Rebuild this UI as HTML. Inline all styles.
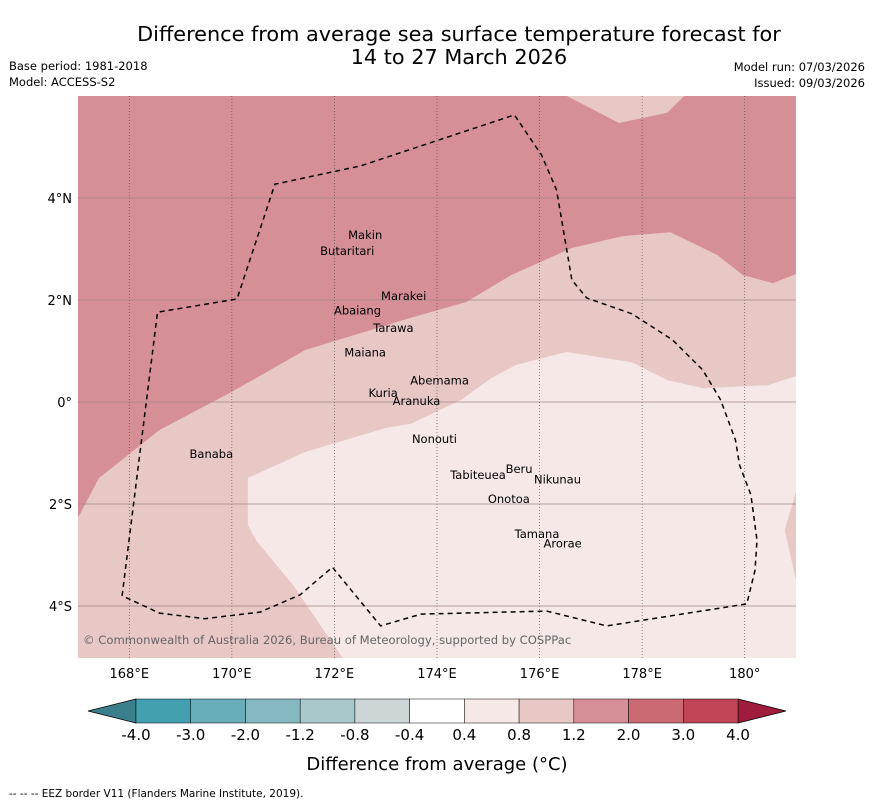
<!DOCTYPE html>
<html><head><meta charset="utf-8"><style>
body{margin:0;background:#fff;font-family:"Liberation Sans","DejaVu Sans",sans-serif}
svg text{font-family:"DejaVu Sans","Liberation Sans",sans-serif}
</style></head><body>
<svg id="c" width="873" height="804" viewBox="0 0 873 804">
<text x="459" y="41" font-size="20.8" text-anchor="middle">Difference from average sea surface temperature forecast for</text>
<text x="459" y="64" font-size="20.8" text-anchor="middle">14 to 27 March 2026</text>
<text x="9" y="70" font-size="11.5">Base period: 1981-2018</text>
<text x="9" y="86" font-size="11.5">Model: ACCESS-S2</text>
<text x="865" y="71" font-size="11.5" text-anchor="end">Model run: 07/03/2026</text>
<text x="865" y="87" font-size="11.5" text-anchor="end">Issued: 09/03/2026</text>
<g id="map"></g>
<g id="cbar"></g>
<text x="437" y="770" font-size="18" text-anchor="middle">Difference from average (°C)</text>
<text x="9" y="797" font-size="10.5">--  --  -- EEZ border V11 (Flanders Marine Institute, 2019).</text>
</svg>
<script>
const lonTicks=[168,170,172,174,176,178,180];
const lonLabels=["168°E","170°E","172°E","174°E","176°E","178°E","180°"];
const latTicks=[4,2,0,-2,-4];
const latLabels=["4°N","2°N","0°","2°S","4°S"];
const cbarLevels=["-4.0","-3.0","-2.0","-1.2","-0.8","-0.4","0.4","0.8","1.2","2.0","3.0","4.0"];
const cbarColors=["#43a0b0","#67adba","#86b8c2","#a8c8cb","#cdd6d7","#ffffff","#f5e8e6","#e8c8c4","#d68f96","#cc6a74","#c04556"];
const darkBoundary=[[167,-2.27],[167.41,-1.49],[168.59,-0.55],[170,0.2],[171.43,1.02],[173.49,1.65],[174.57,1.96],[175.45,2.49],[176.63,3.02],[177.61,3.25],[178.55,3.33],[179.47,2.88],[179.96,2.49],[180.55,2.33],[181,2.51]];
const topRightLight=[[176.53,6],[177.55,5.47],[178.49,5.67],[178.82,6]];
const lightest=[[170.31,-1.49],[171.43,-0.98],[173,-0.51],[173.49,-0.43],[174.47,0.04],[175.06,0.47],[175.55,0.73],[176.53,0.98],[177.8,0.78],[178.49,0.43],[179.18,0.27],[180.45,0.33],[181,0.51],[181,-1.76],[180.78,-2.51],[181,-3.49],[181,-5.02],[172.16,-5.02],[171.2,-3.6],[170.47,-2.71],[170.31,-2.41]];
const eez=[[167.86,-3.8],[168.55,1.76],[170.1,2.02],[170.84,4.27],[172.51,4.63],[175.51,5.63],[176.04,4.84],[176.33,4.16],[176.63,2.39],[176.92,2.04],[177.8,1.73],[178.59,1.22],[179.18,0.63],[179.53,0.04],[179.82,-0.75],[179.9,-1.24],[180.12,-1.82],[180.24,-2.71],[180.2,-3.3],[180.04,-3.96],[177.31,-4.39],[176.14,-4.1],[173.69,-4.16],[172.9,-4.39],[171.96,-3.24],[171.33,-3.78],[170.55,-4.12],[169.47,-4.25],[168.59,-4.14],[167.86,-3.8]];
const islands=[["Makin",172.6,3.2],["Butaritari",172.25,2.88],["Marakei",173.35,2.0],["Abaiang",172.45,1.72],["Tarawa",173.15,1.37],["Maiana",172.6,0.89],["Abemama",174.05,0.34],["Kuria",172.95,0.1],["Aranuka",173.6,-0.06],["Nonouti",173.95,-0.8],["Banaba",169.6,-1.1],["Beru",175.6,-1.39],["Nikunau",176.35,-1.6],["Tabiteuea",174.8,-1.51],["Onotoa",175.4,-1.98],["Tamana",175.95,-2.67],["Arorae",176.45,-2.85]];
const L=78,R=796,T=96,B=658,lon0=167,lon1=181,lat0=-5.02,lat1=6;
const X=v=>L+(v-lon0)/(lon1-lon0)*(R-L);
const Y=v=>T+(lat1-v)/(lat1-lat0)*(B-T);
const NS="http://www.w3.org/2000/svg";
function mk(p,t,a){const e=document.createElementNS(NS,t);for(const k in a)e.setAttribute(k,a[k]);p.appendChild(e);return e;}
const pts=a=>a.map(p=>X(p[0]).toFixed(1)+","+Y(p[1]).toFixed(1)).join(" ");
const m=document.getElementById("map");
let r=mk(m,"rect",{x:L,y:T,width:R-L,height:B-T,fill:"#d68f96"});


let p=mk(m,"polygon",{points:pts(darkBoundary.concat([[181,lat0],[167,lat0]])),fill:"#e8c8c4"});


p=mk(m,"polygon",{points:pts(topRightLight),fill:"#e8c8c4"});


p=mk(m,"polygon",{points:pts(lightest),fill:"#f5e8e6"});


lonTicks.forEach((v,i)=>{
 let l=mk(m,"line",{x1:X(v),x2:X(v),y1:T,y2:B,stroke:"#555","stroke-width":0.7,"stroke-dasharray":"1,2"});
 
 
 let t=mk(m,"text",{x:X(v),y:B+20,"font-size":13,"text-anchor":"middle"});t.textContent=lonLabels[i];
 
 
});
latTicks.forEach((v,i)=>{
 let l=mk(m,"line",{x1:L,x2:R,y1:Y(v),y2:Y(v),stroke:"#a08888","stroke-width":0.8});
 
 
 let t=mk(m,"text",{x:L-6,y:Y(v)+5,"font-size":13,"text-anchor":"end"});t.textContent=latLabels[i];
 
 
});
let e=mk(m,"polyline",{points:pts(eez),fill:"none",stroke:"#000","stroke-width":1.5,"stroke-dasharray":"5,4"});


islands.forEach(d=>{
 let t=mk(m,"text",{x:X(d[1]),y:Y(d[2]),"font-size":11.5,"text-anchor":"middle"});t.textContent=d[0];
 
 
});
let cp=mk(m,"text",{x:83,y:644,"font-size":11.6,fill:"#666"});cp.textContent="© Commonwealth of Australia 2026, Bureau of Meteorology, supported by COSPPac";


const cb=document.getElementById("cbar");
const c0=136,c1=738,cy=699,ch=24,w=(c1-c0)/cbarColors.length;
let a1=mk(cb,"polygon",{points:`88,${cy+ch/2} ${c0},${cy} ${c0},${cy+ch}`,fill:"#3b7f8c",stroke:"#000","stroke-width":0.7});


let a2=mk(cb,"polygon",{points:`786,${cy+ch/2} ${c1},${cy} ${c1},${cy+ch}`,fill:"#a01c3c",stroke:"#000","stroke-width":0.7});


cbarColors.forEach((c,i)=>{
 let b=mk(cb,"rect",{x:c0+i*w,y:cy,width:w,height:ch,fill:c,stroke:"#000","stroke-width":0.5});
 
 
});
cbarLevels.forEach((s,i)=>{
 let t=mk(cb,"text",{x:c0+i*w,y:740,"font-size":15,"text-anchor":"middle"});t.textContent=s;
 
 
});
</script>
</body></html>
